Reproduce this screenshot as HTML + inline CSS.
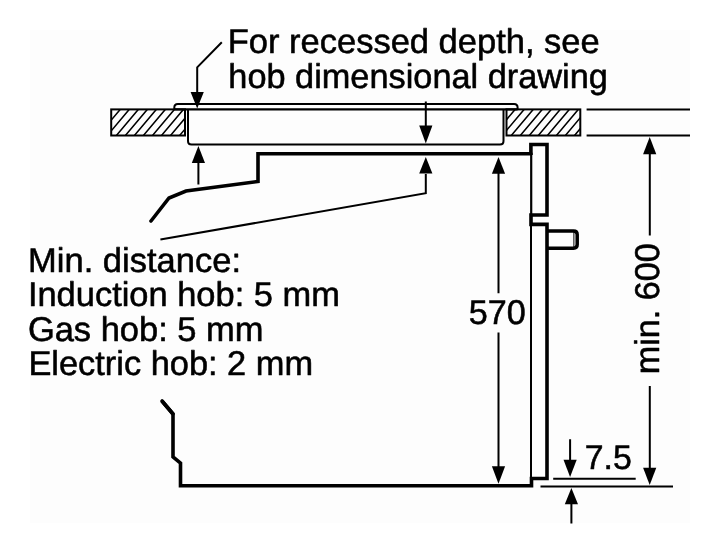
<!DOCTYPE html>
<html><head><meta charset="utf-8">
<style>
html,body{margin:0;padding:0;background:#fff;}
body{width:720px;height:553px;overflow:hidden;font-family:"Liberation Sans",sans-serif;}
svg{display:block;will-change:transform;}
text{font-family:"Liberation Sans",sans-serif;font-size:34.3px;text-rendering:geometricPrecision;fill:#000;stroke:#000;stroke-width:0.55px;stroke-linejoin:round;}
.t{stroke:#000;stroke-width:2;fill:none;}
.k{stroke:#000;stroke-width:3.6;fill:none;stroke-linejoin:miter;stroke-linecap:round;}
.h{stroke:#000;stroke-width:1.5;fill:none;}
.a{fill:#000;stroke:none;}
</style></head><body>
<svg width="720" height="553" viewBox="0 0 720 553">
<defs>
<clipPath id="cl"><rect x="111.2" y="109.4" width="73.8" height="26.1"/></clipPath>
<clipPath id="cr"><rect x="506.5" y="109.4" width="73.8" height="26.1"/></clipPath>
</defs>
<rect x="0" y="0" width="720" height="553" fill="#fff"/>
<rect x="30" y="30" width="660" height="493" fill="#fdfdfd"/>

<!-- hatched worktop left/right -->
<path class="h" clip-path="url(#cl)" d="M120.2 109.4 L98.3 135.5 M129.2 109.4 L107.3 135.5 M138.3 109.4 L116.4 135.5 M147.3 109.4 L125.4 135.5 M156.3 109.4 L134.4 135.5 M165.3 109.4 L143.4 135.5 M174.4 109.4 L152.5 135.5 M183.4 109.4 L161.5 135.5 M192.4 109.4 L170.5 135.5 M201.5 109.4 L179.6 135.5"/>
<path class="h" clip-path="url(#cr)" d="M515.1 109.4 L493.2 135.5 M524.1 109.4 L502.2 135.5 M533.2 109.4 L511.3 135.5 M542.2 109.4 L520.3 135.5 M551.2 109.4 L529.3 135.5 M560.2 109.4 L538.3 135.5 M569.3 109.4 L547.4 135.5 M578.3 109.4 L556.4 135.5 M587.3 109.4 L565.4 135.5 M596.4 109.4 L574.5 135.5"/>
<rect class="t" x="111.2" y="109.4" width="73.8" height="26.1"/>
<rect class="t" x="506.5" y="109.4" width="73.8" height="26.1"/>

<!-- hob top plate -->
<path class="t" d="M174.3 109.4 V107.5 Q174.3 104 177.8 104 H514.1 Q517.6 104 517.6 107.5 V109.4"/>
<path class="t" d="M174.3 109.4 H517.6" style="stroke-width:2.3"/>
<!-- hob body -->
<path class="t" d="M188 109.4 V141 Q188 144.5 191.5 144.5 H500 Q503.5 144.5 503.5 141 V109.4"/>

<!-- right horizontal lines -->
<path class="t" d="M586.6 109.5 H690 M586.6 135.4 H690"/>

<!-- oven outline thick -->
<path class="k" d="M151 221 L169 198 L186 191 L258 181.5 V153.8 H530.9"/>
<path class="k" d="M162 401 L173 414 V457 L180.5 463 V485.8 H531.5 V478.5 H547 V224.4 H531 V215 H547 V144.5 H530.9 V155" style="stroke-linecap:butt"/>
<path class="k" d="M162 401 L173 414" />
<!-- door thin left line -->
<path class="t" d="M531 224.5 V478.5" style="stroke-width:2"/>
<path class="t" d="M531.2 154 V215" style="stroke-width:2.2"/>
<!-- handle -->
<path class="k" d="M547 230.9 H573.5 Q577.2 230.9 577.2 234.6 V244.5 Q577.2 248.2 573.5 248.2 H547" style="stroke-width:3.5;stroke-linecap:butt"/>
<path class="t" d="M573.9 231 V248" style="stroke-width:1"/>

<!-- leader top-left -->
<path class="t" d="M221.8 42.3 L197.2 67.3 V93"/>
<path class="a" d="M190.6 92 H203.8 L197.2 108.5 Z"/>
<!-- arrow up at 198.4 -->
<path class="t" d="M198.4 184.5 V162"/>
<path class="a" d="M191.8 163 H205.0 L198.4 146 Z"/>

<!-- arrow down at 425.8 -->
<path class="t" d="M425.8 101.5 V126"/>
<path class="a" d="M419.2 125.6 H432.4 L425.8 143.5 Z"/>
<!-- arrow up + thin leader -->
<path class="t" d="M425.8 174 V193.2 L160.4 239.6"/>
<path class="a" d="M419.2 173.5 H432.4 L425.8 157 Z"/>

<!-- 570 dimension -->
<path class="t" d="M498.5 173 V293.3 M498.5 332.5 V467"/>
<path class="a" d="M491.9 173.7 H505.1 L498.5 157 Z"/>
<path class="a" d="M491.9 466.3 H505.1 L498.5 483.7 Z"/>
<text x="468.8" y="324.4" textLength="57.0" lengthAdjust="spacingAndGlyphs">570</text>

<!-- min 600 dimension -->
<path class="t" d="M649.8 154 V235.6 M649.8 386 V468"/>
<path class="a" d="M643.1 154.3 H656.3 L649.7 137 Z"/>
<path class="a" d="M643.1 467.8 H656.3 L649.7 485 Z"/>
<text transform="translate(658.7 374.3) rotate(-90)" x="0" y="0" textLength="131.0" lengthAdjust="spacingAndGlyphs">min. 600</text>

<!-- 7.5 dimension -->
<path class="t" d="M553.2 478.7 H635.7 M540.5 486.6 H673"/>
<path class="t" d="M570.1 439.2 V461 M571.4 504 V523.5"/>
<path class="a" d="M563.5 459.8 H576.7 L570.1 477 Z"/>
<path class="a" d="M564.8 504.3 H578.0 L571.4 488 Z"/>
<text x="584.7" y="468.7" textLength="47.1" lengthAdjust="spacingAndGlyphs">7.5</text>

<!-- texts -->
<text x="227.8" y="53.15" textLength="371.9" lengthAdjust="spacingAndGlyphs">For recessed depth, see</text>
<text x="228.3" y="87.55" textLength="379.6" lengthAdjust="spacingAndGlyphs">hob dimensional drawing</text>
<text x="28.1" y="272.05" textLength="212.9" lengthAdjust="spacingAndGlyphs">Min. distance:</text>
<text x="27.9" y="306.45" textLength="312.0" lengthAdjust="spacingAndGlyphs">Induction hob: 5 mm</text>
<text x="27.9" y="340.85" textLength="235.6" lengthAdjust="spacingAndGlyphs">Gas hob: 5 mm</text>
<text x="28.4" y="375.2" textLength="284.7" lengthAdjust="spacingAndGlyphs">Electric hob: 2 mm</text>
</svg>
</body></html>
